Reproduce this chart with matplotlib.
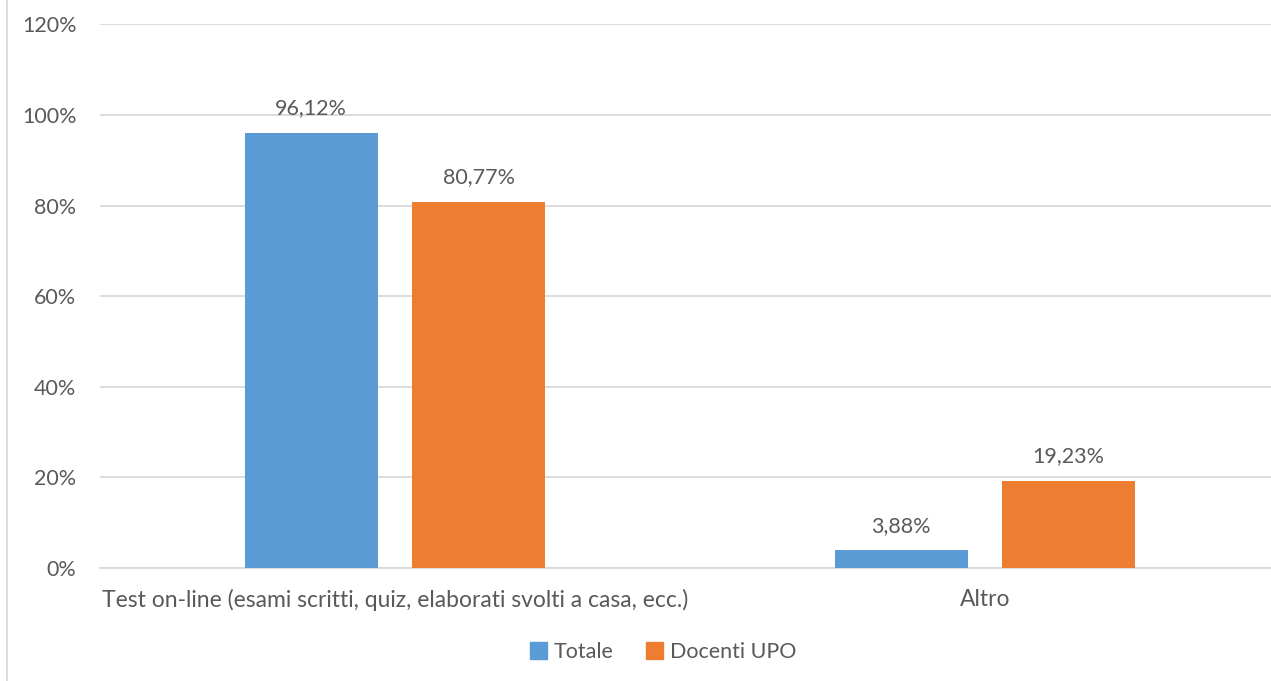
import numpy as np
import matplotlib.pyplot as plt
from matplotlib.lines import Line2D
from matplotlib.patches import Rectangle

plt.rcParams['font.family'] = ['Lato', 'DejaVu Sans']

categorie = ["Test on-line (esami scritti, quiz, elaborati svolti a casa, ecc.)", "Altro"]
totale = [96.12, 3.88]
docenti_upo = [80.77, 19.23]
serie = ["Totale", "Docenti UPO"]
colori = ["#5B9BD5", "#ED7D31"]
testo = "#595959"
fs = 15.5

fig = plt.figure(figsize=(12.71, 6.81), dpi=100)
# l'area del grafico esce un po' dal bordo destro, come nell'originale
ax = fig.add_axes([100 / 1271, 1 - 568 / 681, 1180 / 1271, 543.6 / 681])

x = np.arange(len(categorie))
larghezza = 0.225
offset = 0.142

b1 = ax.bar(x - offset, totale, larghezza, color=colori[0], label=serie[0], zorder=3)
b2 = ax.bar(x + offset, docenti_upo, larghezza, color=colori[1], label=serie[1], zorder=3)

for barre, valori in [(b1, totale), (b2, docenti_upo)]:
    for b, v in zip(barre, valori):
        ax.annotate(f"{v:.2f}%".replace(".", ","), (b.get_x() + b.get_width() / 2, v),
                    xytext=(0, 10.5), textcoords="offset points", ha="center", va="bottom",
                    fontsize=fs, color=testo)

ax.set_xlim(-0.5, 1.5)
ax.set_ylim(0, 120)
ax.set_yticks(np.arange(0, 121, 20))
ax.set_yticklabels([f"{v}%" for v in range(0, 121, 20)])
ax.set_xticks(x)
ax.set_xticklabels(categorie, fontsize=16.5)
ax.tick_params(axis="y", length=0, labelsize=fs, colors=testo, pad=17)
ax.tick_params(axis="x", length=0, colors=testo, pad=15)
ax.grid(axis="y", color="#D9D9D9", linewidth=1.3, zorder=0)
for s in ["top", "right", "left"]:
    ax.spines[s].set_visible(False)
ax.spines["bottom"].set_color("#D9D9D9")
ax.spines["bottom"].set_linewidth(1.3)

maniglie = [Rectangle((0, 0), 1, 1, color=c) for c in colori]
fig.legend(maniglie, serie, loc="center", bbox_to_anchor=(663 / 1271, 1 - 652 / 681), ncol=2,
           frameon=False, fontsize=fs, labelcolor=testo, handlelength=0.8, handleheight=0.8,
           handletextpad=0.3, columnspacing=1.5)

fig.add_artist(Line2D([7 / 1271, 7 / 1271], [0, 1], color="#D9D9D9", linewidth=1.3))

fig.savefig("out.png", dpi=100)
